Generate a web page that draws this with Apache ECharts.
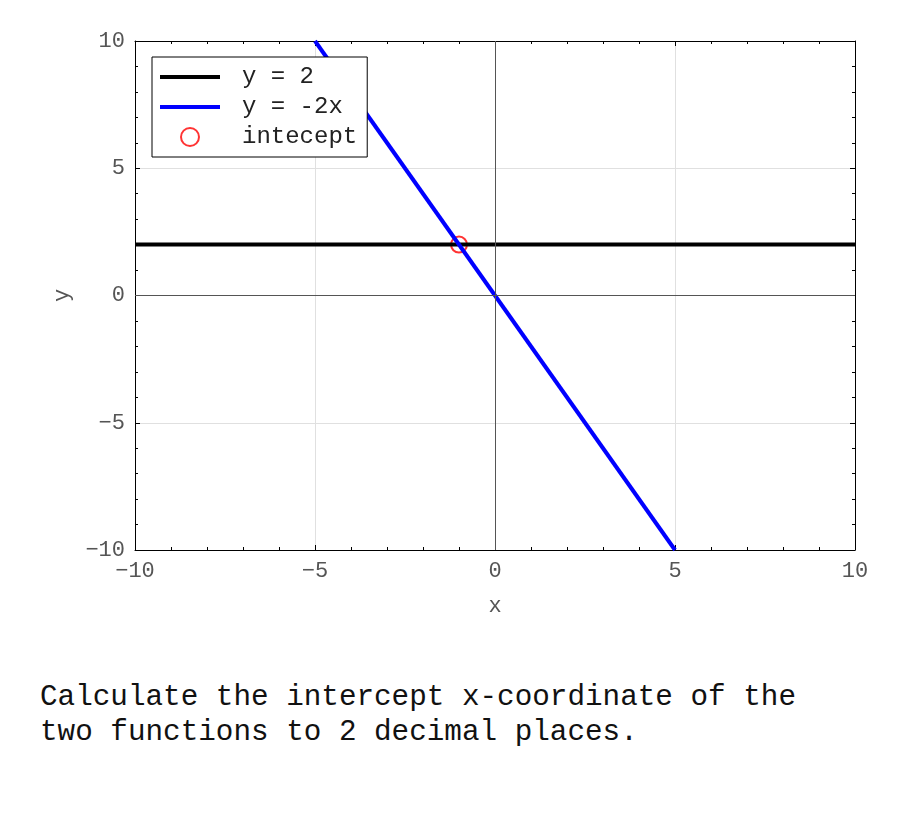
<!DOCTYPE html>
<html>
<head>
<meta charset="utf-8">
<script src="https://cdn.jsdelivr.net/npm/echarts@6/dist/echarts.min.js"></script>
<style>
html,body{margin:0;padding:0;background:#fff;}
#chart{width:900px;height:640px;}
#q{position:absolute;left:40px;top:680px;font-family:"Liberation Mono",monospace;font-size:29.3px;line-height:35px;color:#111;white-space:pre;}
</style>
</head>
<body>
<div id="chart"></div>
<div id="q">Calculate the intercept x-coordinate of the
two functions to 2 decimal places.</div>
<script>
const xRange = [-10, 10];
const yRange = [-10, 10];
const lineConstX = [-10, 10];
const lineConstY = [2, 2];
const lineSlopeX = [-5, 5];
const lineSlopeY = [10, -10];
const interceptPoint = [-1, 2];
const seriesNames = ['y = 2', 'y = -2x', 'intecept'];

const font = 'Liberation Mono';
const chart = echarts.init(document.getElementById('chart'));
function axisBase(show) {
  return {
    type: 'value', min: xRange[0], max: xRange[1], interval: 5,
    axisLine: { show: true, onZero: false, lineStyle: { color: '#000', width: 1 } },
    axisTick: { show: true, inside: true, length: 5, lineStyle: { color: '#000' } },
    minorTick: { show: true, splitNumber: 5, length: 3, lineStyle: { color: '#000' } },
    axisLabel: { show: show, fontFamily: font, fontSize: 22, color: '#555', margin: 10,
      formatter: v => (v < 0 ? '\u2212' + Math.abs(v) : String(v)) },
    splitLine: { show: show, lineStyle: { color: '#e0e0e0', width: 1 } }
  };
}
const xMain = Object.assign(axisBase(true), { position: 'bottom', name: 'x', nameLocation: 'middle', nameGap: 45,
  nameTextStyle: { fontFamily: font, fontSize: 22, color: '#555' } });
const xTop = Object.assign(axisBase(false), { position: 'top' });
const yMain = Object.assign(axisBase(true), { min: yRange[0], max: yRange[1], position: 'left', name: 'y', nameLocation: 'middle', nameGap: 62,
  nameTextStyle: { fontFamily: font, fontSize: 22, color: '#555' } });
const yRight = Object.assign(axisBase(false), { min: yRange[0], max: yRange[1], position: 'right' });

chart.setOption({
  animation: false,
  grid: { left: 135, right: 45, top: 41, bottom: 90, containLabel: false },
  xAxis: [xMain, xTop],
  yAxis: [yMain, yRight],
  legend: {
    orient: 'vertical', left: 152, top: 57,
    itemWidth: 60, itemHeight: 18, itemGap: 6,
    padding: [8, 10, 8, 8],
    borderColor: '#000', borderWidth: 1, backgroundColor: '#fff',
    textStyle: { fontFamily: font, fontSize: 24, color: '#222', padding: [0, 0, 0, 17], lineHeight: 24 },
    data: [
      { name: seriesNames[0], icon: 'path://M0,0h60v4h-60z' },
      { name: seriesNames[1], icon: 'path://M0,0h60v4h-60z' },
      { name: seriesNames[2], icon: 'circle' }
    ]
  },
  series: [
    {
      name: 'zero', type: 'line', data: [], silent: true,
      markLine: { silent: true, symbol: 'none', label: { show: false },
        lineStyle: { color: '#555', width: 1, type: 'solid' },
        data: [{ xAxis: 0 }, { yAxis: 0 }] }
    },
    {
      name: seriesNames[0], type: 'line', showSymbol: false, symbol: 'none',
      data: lineConstX.map((x, i) => [x, lineConstY[i]]),
      lineStyle: { color: '#000', width: 4 }, itemStyle: { color: '#000' }
    },
    {
      name: seriesNames[1], type: 'line', showSymbol: false, symbol: 'none',
      data: lineSlopeX.map((x, i) => [x, lineSlopeY[i]]),
      lineStyle: { color: '#0000ff', width: 4 }, itemStyle: { color: '#0000ff' }
    },
    {
      name: seriesNames[2], type: 'scatter', symbol: 'circle', symbolSize: 16,
      data: [interceptPoint],
      itemStyle: { color: 'rgba(0,0,0,0)', borderColor: '#ff0000', borderWidth: 2 }
    }
  ]
});
</script>
</body>
</html>
